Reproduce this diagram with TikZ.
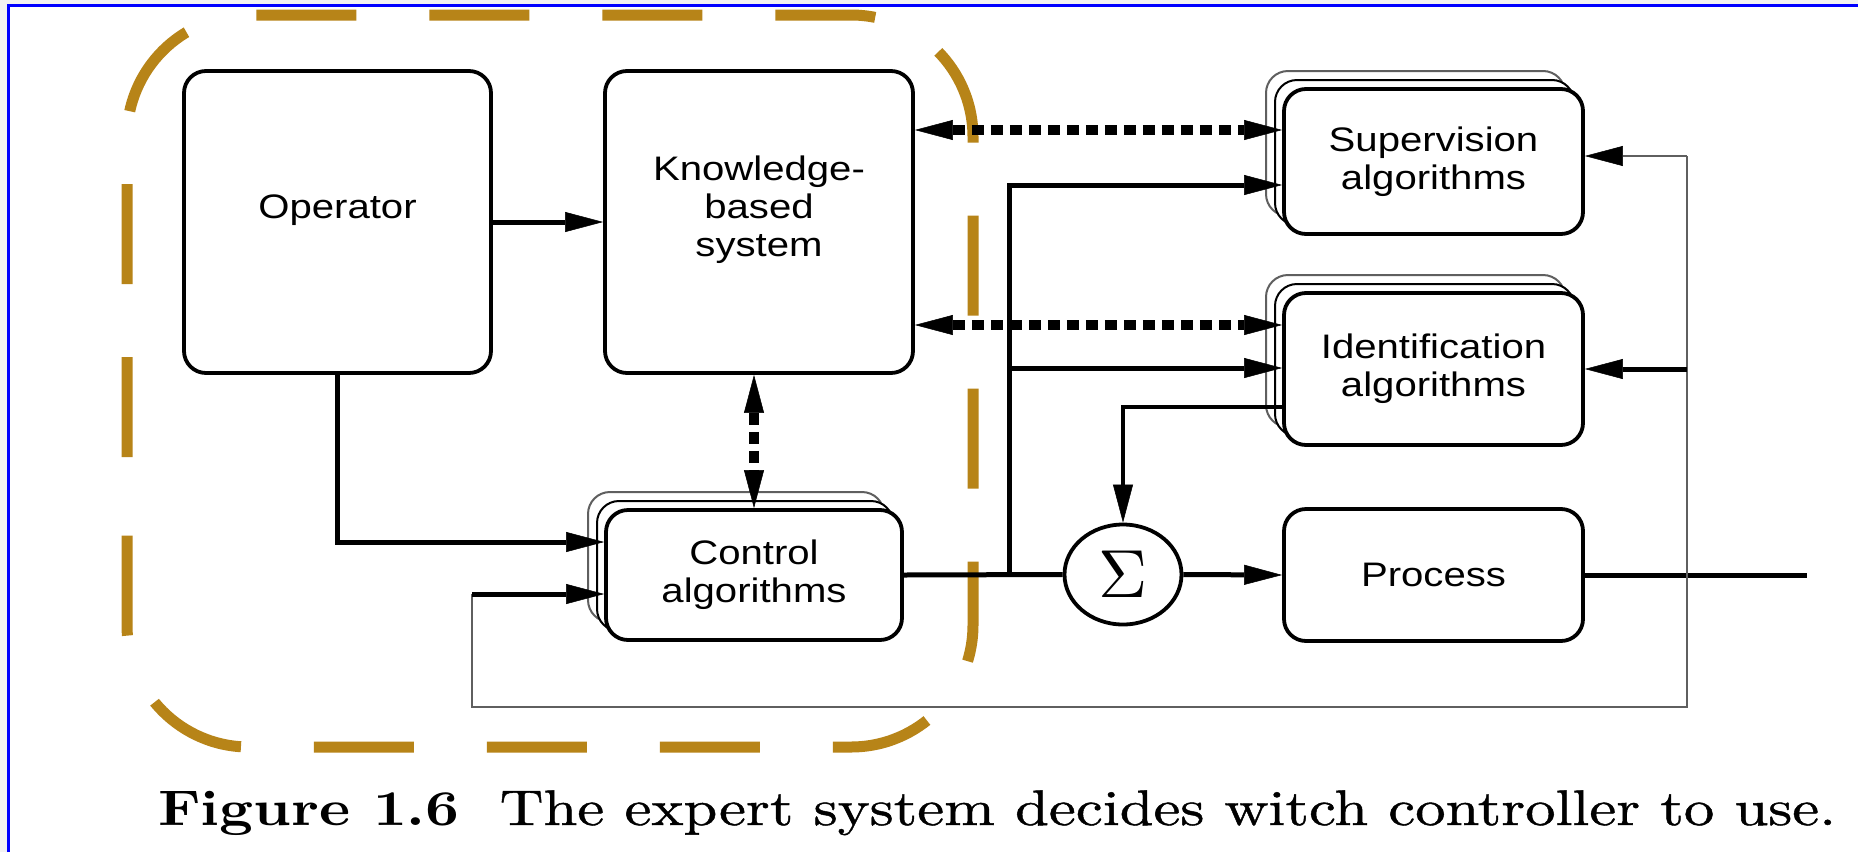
\documentclass[tikz,border=0pt]{standalone}
\usepackage{fontspec}
\usetikzlibrary{arrows.meta,calc,shapes.geometric}
\newfontfamily\boxfont{Liberation Sans}[FakeStretch=1.18]
\newfontfamily\capfont{lmroman10-regular.otf}[BoldFont=lmroman10-bold.otf,FakeStretch=1.18]
\newfontfamily\captextfont{lmroman10-regular.otf}[FakeStretch=1.215,FakeBold=0.9]
\definecolor{frameblue}{RGB}{0,0,255}
\definecolor{pagegray}{RGB}{242,242,242}
\definecolor{gold}{RGB}{183,132,24}
\definecolor{wire}{RGB}{95,95,95}

\begin{document}
\begin{tikzpicture}[x=1pt,y=-1pt,
  box/.style={draw, line width=3.8pt, rounded corners=22pt, fill=white, inner sep=0pt},
  backbox/.style={draw, line width=2pt, rounded corners=22pt, fill=white, inner sep=0pt},
  lbl/.style={font=\boxfont\fontsize{34}{38}\selectfont, align=center, inner sep=0pt},
  tip/.style={-{Triangle[length=38pt,width=20pt,line width=0.5pt,color=black]}},
  bitip/.style={{Triangle[length=38pt,width=20pt,line width=0.5pt]}-{Triangle[length=38pt,width=20pt,line width=0.5pt]}},
  heavy/.style={line width=5pt},
  light/.style={line width=2.8pt, draw=wire},
  dots/.style={line width=9.5pt, dash pattern=on 12pt off 7pt},
]
% page frame
\useasboundingbox (0,0) rectangle (1858,852);
\fill[pagegray] (0,0) rectangle (1858,852);
\fill[white] (8.7,5.5) rectangle (1858,852);
\draw[frameblue, line width=3pt] (8.7,852) -- (8.7,5.5) -- (1858,5.5);

% expert-system boundary
\draw[gold, line width=11pt, rounded corners=122pt, dash pattern=on 100pt off 73pt, dash phase=100pt]
  (127,530) -- (127,15) -- (973,15) -- (973,747) -- (127,747) -- (127,530);

% operator and knowledge base
\node[box, minimum width=307pt, minimum height=302pt] (op) at (337.5,222) {};
\node[lbl] (op-t) at (337.5,210) {Operator};
\node[box, minimum width=308pt, minimum height=302pt] (kbs) at (759,222) {};
\node[lbl] (kbs-t) at (759,210) {Knowledge-\\based\\system};

% supervision algorithms (stack)
\node[backbox, draw=wire, minimum width=299pt, minimum height=145pt] (sup-b2) at (1415.5,143.5) {};
\node[backbox, minimum width=299pt, minimum height=145pt] (sup-b1) at (1424.5,152.5) {};
\node[box, lbl, minimum width=299pt, minimum height=145pt] (sup) at (1433.5,161.5) {Supervision\\algorithms};

% identification algorithms (stack)
\node[backbox, draw=wire, minimum width=299pt, minimum height=152pt] (ident-b2) at (1415.5,351) {};
\node[backbox, minimum width=299pt, minimum height=152pt] (ident-b1) at (1424.5,360) {};
\node[box, lbl, minimum width=299pt, minimum height=152pt] (ident) at (1433.5,369) {Identification\\algorithms};

% control algorithms (stack)
\node[backbox, draw=wire, minimum width=296pt, minimum height=130pt] (ctrl-b2) at (736,557) {};
\node[backbox, minimum width=296pt, minimum height=130pt] (ctrl-b1) at (745,566) {};
\node[box, lbl, minimum width=296pt, minimum height=130pt] (ctrl) at (754,575) {Control\\algorithms};

% summing junction and process
\node[draw, ellipse, line width=3.8pt, fill=white, minimum width=117pt, minimum height=100pt, inner sep=0pt] (sum) at (1123,574.5)
  {\scalebox{6.8}{$\Sigma$}};
\node[box, lbl, minimum width=299pt, minimum height=132pt] (proc) at (1433.5,575) {Process};

% helper coordinates
\coordinate (yDotA) at (0,130);
\coordinate (yDotB) at (0,325);
\coordinate (ySupIn) at (0,185);
\coordinate (yIdIn) at (0,368);
\coordinate (yIdOut) at (0,407);
\coordinate (yOpCtrl) at (0,542);
\coordinate (yFbCtrl) at (0,594);
\coordinate (split) at (1009,575);
\coordinate (out) at (1807,575);
\coordinate (fbTop) at (1687,156);
\coordinate (fbBot) at (1687,707);
\coordinate (fbLeft) at (472,707);
\coordinate (fbUp) at (472,594);

% information exchange with the knowledge base
\draw[dots, bitip] (kbs.east |- yDotA) -- (sup.west |- yDotA);
\draw[dots, bitip] (kbs.east |- yDotB) -- (ident.west |- yDotB);
\draw[dots, bitip] (kbs.south -| ctrl.north) -- (ctrl.north);

% signal flow
\draw[heavy, tip] (op.east) -- (kbs.west);
\draw[heavy, tip] (op.south) |- (ctrl.west |- yOpCtrl);
\draw[heavy] (ctrl.east) -- (sum.west);
\draw[heavy, tip] (sum.east) -- (proc.west);
\draw[heavy] (proc.east) -- (out);
\draw[heavy, tip] (split) |- (sup.west |- ySupIn);
\draw[heavy, tip] (split |- yIdIn) -- (ident.west |- yIdIn);
\draw[line width=3.2pt, tip] (ident.west |- yIdOut) -| (sum.north);

% feedback from the process output
\draw[light] (fbTop) -- (fbBot) -- (fbLeft) -- (fbUp);
\draw[light, tip] (fbTop) -- (sup.east |- fbTop);
\draw[heavy, tip] (fbTop |- ident.east) -- (ident.east);
\draw[heavy, tip] (fbUp) -- (ctrl.west |- fbUp);

% caption
\node[anchor=base west, inner sep=0pt] (cap) at (158,825)
  {\capfont\fontsize{50}{50}\selectfont\textbf{Figure 1.6}\hspace{40pt}\captextfont The expert system decides witch controller to use.};
\end{tikzpicture}
\end{document}
